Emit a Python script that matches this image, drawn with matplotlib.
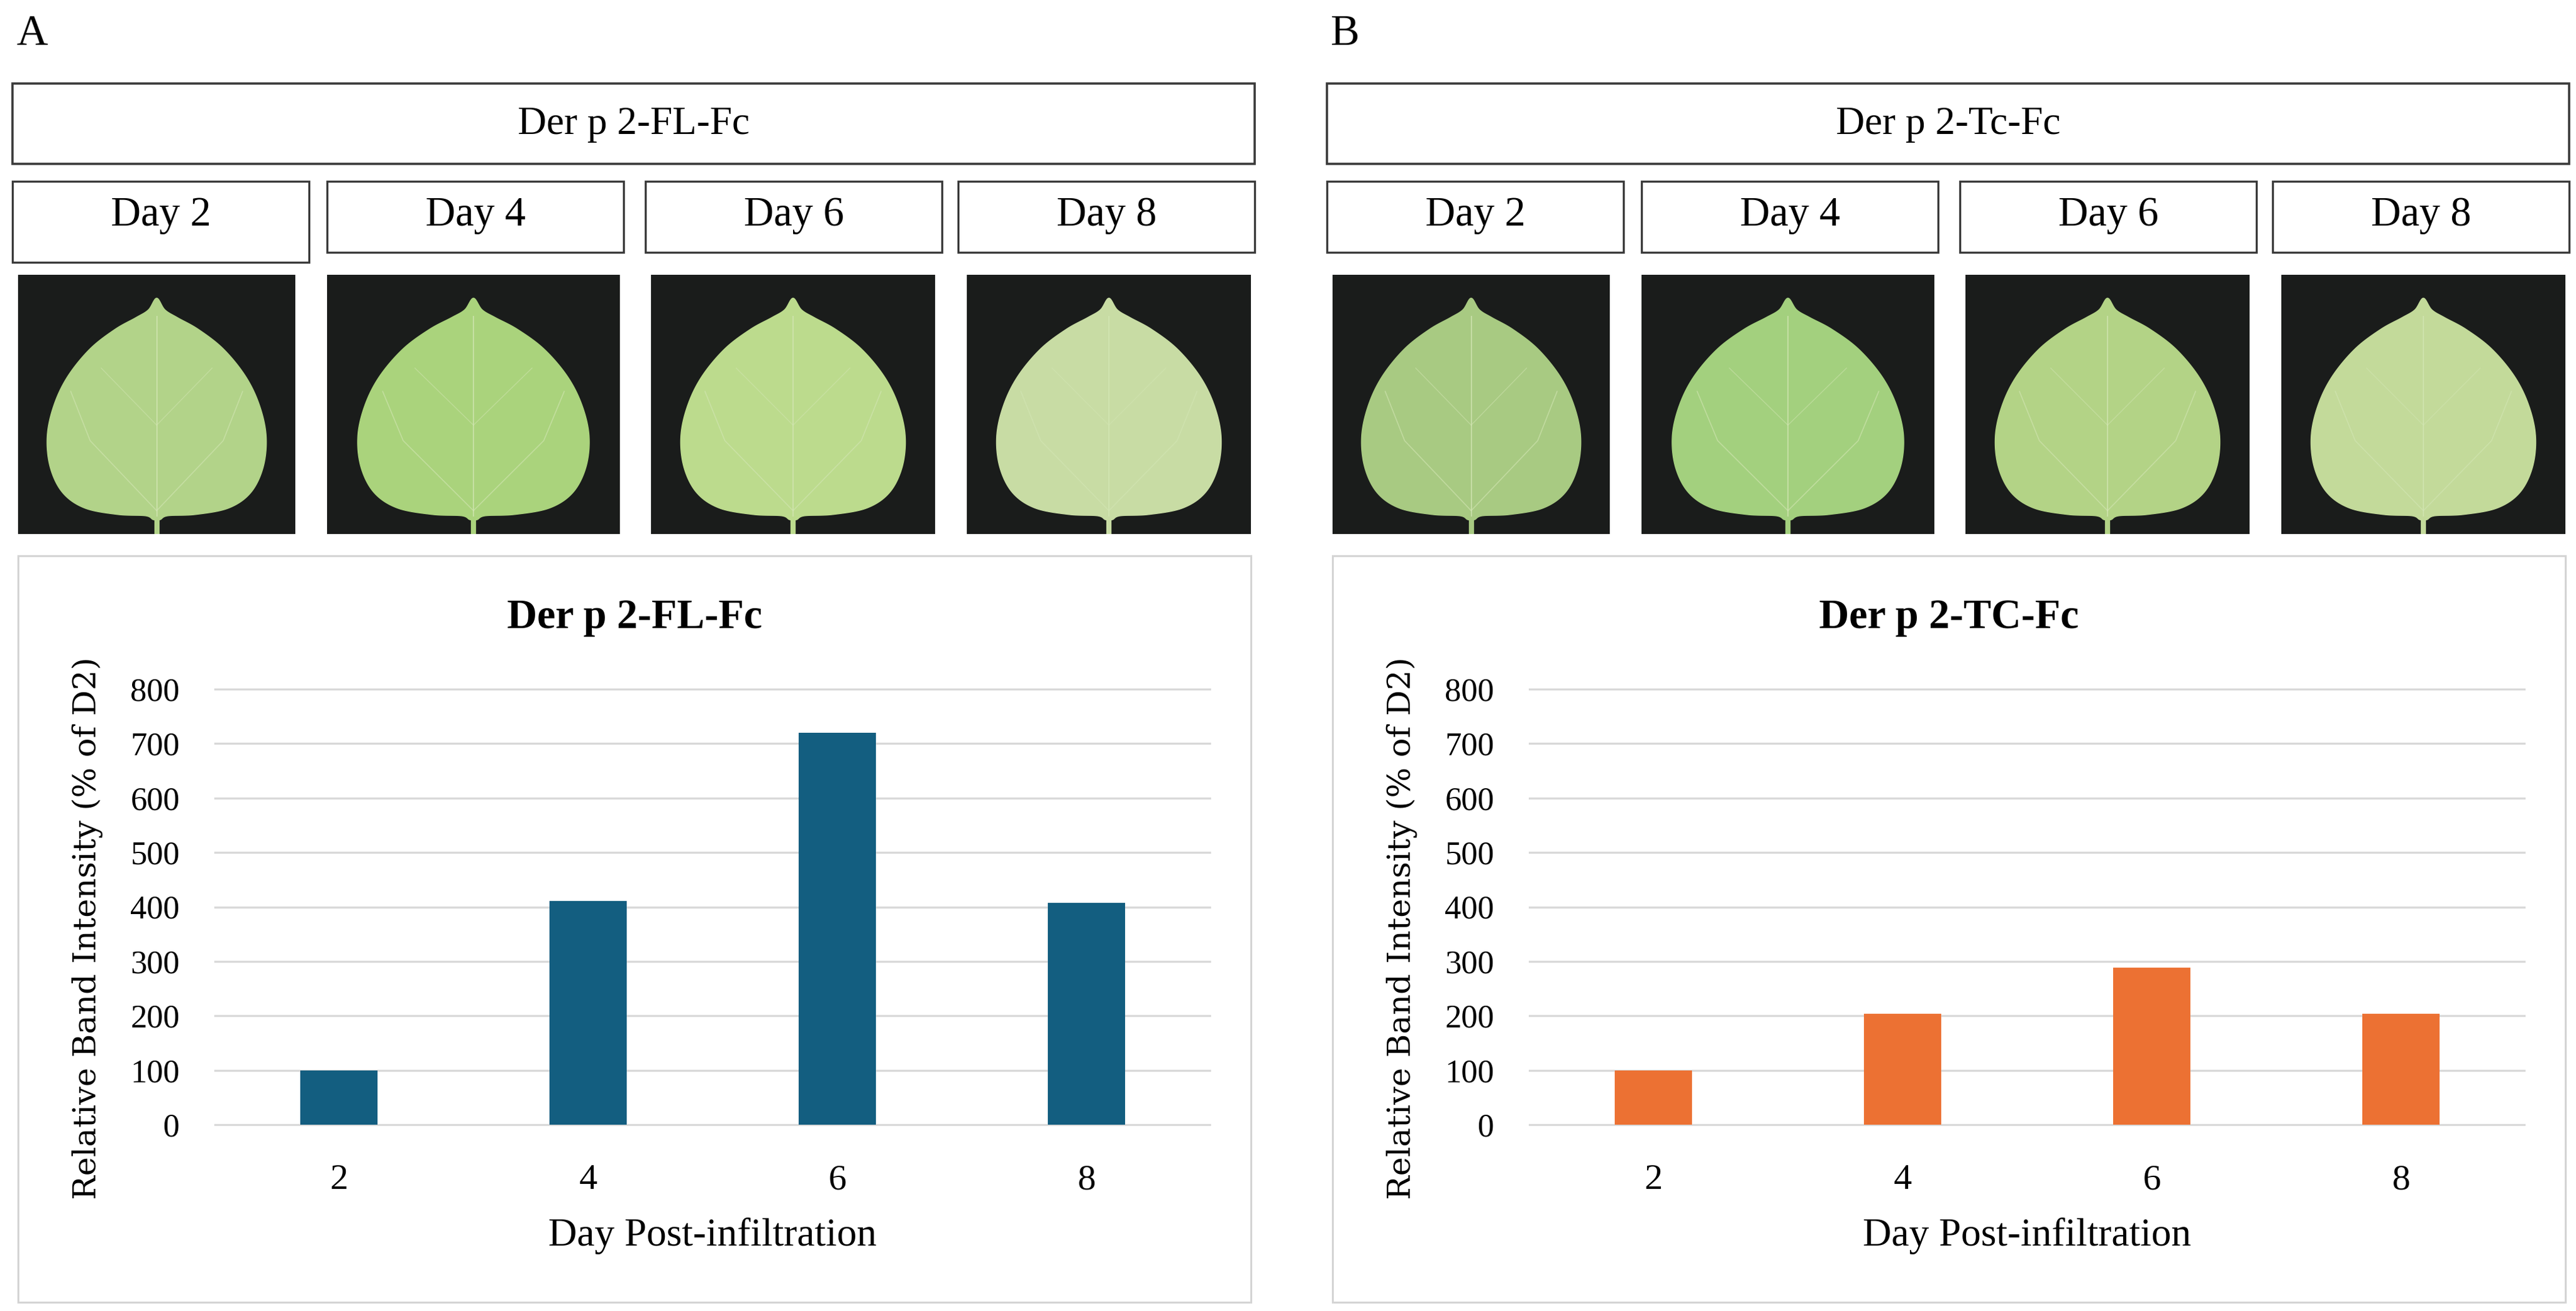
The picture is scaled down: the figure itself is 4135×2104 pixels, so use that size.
import numpy as np
import matplotlib
matplotlib.use("Agg")
import matplotlib.pyplot as plt
from matplotlib.patches import Rectangle, Polygon

# ---------------- data ----------------
days = ["2", "4", "6", "8"]
day_titles = ["Day 2", "Day 4", "Day 6", "Day 8"]
fl_values = [100, 411, 720, 407]
tc_values = [100, 204, 289, 204]
y_ticks = [0, 100, 200, 300, 400, 500, 600, 700, 800]
panel_letters = ["A", "B"]
construct_names = ["Der p 2-FL-Fc", "Der p 2-Tc-Fc"]
chart_titles = ["Der p 2-FL-Fc", "Der p 2-TC-Fc"]
bar_colors = ["#135E80", "#EC7133"]
leaf_colors = [["#B2D389", "#AAD37C", "#BCDB8D", "#C8DCA4"],
               ["#A8CA82", "#A3D07E", "#B3D386", "#C3DA9A"]]
xlabel_text = "Day Post-infiltration"
ylabel_text = "Relative Band Intensity (% of D2)"

W, H = 4135, 2104
fig = plt.figure(figsize=(W / 100, H / 100), dpi=100)
fig.patch.set_facecolor("white")

SERIF = ["Liberation Serif", "DejaVu Serif"]


def fx(x):
    return x / W


def fy(y):
    return 1 - y / H


def fig_rect(x0, y0, x1, y1, ec, lw, fc="none", z=1):
    r = Rectangle((fx(x0), fy(y1)), fx(x1) - fx(x0), fy(y0) - fy(y1),
                  transform=fig.transFigure, facecolor=fc, edgecolor=ec,
                  linewidth=lw, zorder=z)
    fig.patches.append(r)


def catmull(pts, n=20):
    pts = np.asarray(pts)
    P = np.vstack([pts[-1], pts, pts[0], pts[1]])
    out = []
    for i in range(1, len(P) - 2):
        p0, p1, p2, p3 = P[i - 1], P[i], P[i + 1], P[i + 2]
        t = np.linspace(0, 1, n, endpoint=False)[:, None]
        seg = 0.5 * ((2 * p1) + (-p0 + p2) * t + (2 * p0 - 5 * p1 + 4 * p2 - p3) * t ** 2
                     + (-p0 + 3 * p1 - 3 * p2 + p3) * t ** 3)
        out.append(seg)
    return np.vstack(out)


half = [(0.0, 0.91), (0.03, 0.865), (0.075, 0.835), (0.15, 0.79), (0.24, 0.715),
        (0.32, 0.61), (0.37, 0.50), (0.395, 0.38), (0.385, 0.26), (0.34, 0.16),
        (0.26, 0.10), (0.14, 0.075), (0.04, 0.07), (0.012, 0.055)]
right = [(0.5 + dx, y) for dx, y in half]
left = [(0.5 - dx, y) for dx, y in reversed(half[1:])]
leaf_outline = catmull(right + left)


def draw_leaf(ax, color):
    ax.set_facecolor("#1a1c1b")
    ax.set_xlim(0, 1)
    ax.set_ylim(0, 1)
    ax.set_xticks([])
    ax.set_yticks([])
    for s in ax.spines.values():
        s.set_visible(False)
    ax.plot([0.5, 0.5], [0.0, 0.08], color=color, lw=6, solid_capstyle="butt")
    ax.add_patch(Polygon(leaf_outline, closed=True, facecolor=color, edgecolor=color, lw=1))
    vc = "#D3E6B4"
    ax.plot([0.5, 0.5], [0.07, 0.84], color=vc, lw=1.5, alpha=0.7)
    for sgn in (-1, 1):
        ax.plot([0.5, 0.5 + sgn * 0.24, 0.5 + sgn * 0.31], [0.09, 0.36, 0.55], color=vc, lw=1.2, alpha=0.6)
        ax.plot([0.5, 0.5 + sgn * 0.2], [0.42, 0.64], color=vc, lw=1.0, alpha=0.5)


# ---------------- layout (pixel coordinates) ----------------
offsets = [0, 2110]
panels = [fl_values, tc_values]

for p in range(2):
    o = offsets[p]
    # panel letter
    fig.text(fx(26 + o), fy(72), panel_letters[p], fontsize=50, family=SERIF,
             ha="left", va="baseline")
    # construct box
    fig_rect(20 + o, 134, 2014 + o, 263, "#3a3a3a", 2.6)
    fig.text(fx((20 + 2014) / 2 + o), fy(200), construct_names[p], fontsize=46,
             family=SERIF, ha="center", va="center")
    # day boxes
    dx0 = [20, 525, 1036, 1538]
    for i in range(4):
        x0 = dx0[i] + o
        x1 = x0 + 476
        bot = 421 if (p == 0 and i == 0) else 405
        fig_rect(x0, 291, x1, bot, "#3a3a3a", 2.4)
        fig.text(fx((x0 + x1) / 2), fy(346), day_titles[i], fontsize=48,
                 family=SERIF, ha="center", va="center")
    # photos
    px0 = [29, 525, 1045, 1552]
    pw = [445, 470, 456, 456]
    for i in range(4):
        x0 = px0[i] + o
        axp = fig.add_axes([fx(x0), fy(857), fx(pw[i]), fy(441) - fy(857)])
        draw_leaf(axp, leaf_colors[p][i])

    # chart box
    fig_rect(29 + o, 892, 2008 + o, 2090, "#D4D4D4", 2.2)
    fig.text(fx((29 + 2008) / 2 + o), fy(991), chart_titles[p], fontsize=48,
             family=SERIF, weight="bold", ha="center", va="center")

    # bar chart axes
    ax_l, ax_r = 344 + o, 1944 + o
    ax_t, ax_b = 1104, 1807
    ax = fig.add_axes([fx(ax_l), fy(ax_b), fx(ax_r - ax_l), fy(ax_t) - fy(ax_b)])
    x = np.arange(len(days))
    ax.bar(x, panels[p], width=0.31, color=bar_colors[p], zorder=3)
    ax.set_xlim(-0.5, 3.5)
    ax.set_ylim(-2, 802)
    ax.set_yticks(y_ticks)
    ax.set_yticklabels([str(v) for v in y_ticks], family=SERIF, fontsize=38)
    ax.set_xticks(x)
    ax.set_xticklabels(days, family=SERIF, fontsize=42)
    ax.tick_params(axis="both", length=0)
    ax.tick_params(axis="y", pad=40)
    ax.tick_params(axis="x", pad=44)
    ax.yaxis.grid(True, color="#D9D9D9", linewidth=2.4, zorder=0)
    ax.set_axisbelow(True)
    for s in ax.spines.values():
        s.set_visible(False)
    ax.set_facecolor("none")
    ax.set_xlabel(xlabel_text, family=SERIF, fontsize=46)
    ax.xaxis.set_label_coords(0.5, (ax_b - 1984) / (ax_b - ax_t))
    ax.xaxis.label.set_va("center")
    ax.set_ylabel(ylabel_text, family=["DejaVu Serif"], fontsize=37)
    ax.yaxis.set_label_coords((140 + o - ax_l) / (ax_r - ax_l), (ax_b - 1490) / (ax_b - ax_t))
    ax.yaxis.label.set_va("center")

fig.savefig("out.png", dpi=100, facecolor="white")
